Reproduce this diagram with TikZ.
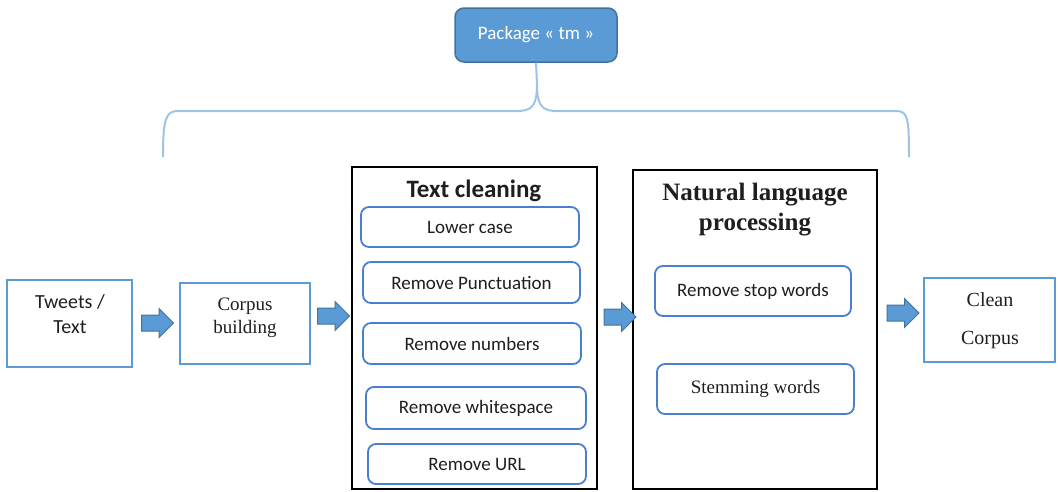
\documentclass[tikz,border=0pt]{standalone}
\usepackage{fontspec}
\setmainfont{Liberation Serif}
\newfontfamily\calib{Carlito}
\usetikzlibrary{shapes.arrows}
\definecolor{sqblue}{HTML}{5B9BD5}
\definecolor{rblue}{HTML}{4A7FD0}
\definecolor{pkgfill}{HTML}{5B9BD5}
\definecolor{pkgdraw}{HTML}{41719C}
\definecolor{bracecol}{HTML}{9DC3E6}
\definecolor{txt}{HTML}{1E1E1E}
\tikzset{
  sqbox/.style={draw=sqblue, line width=2pt, fill=white, inner sep=0pt},
  rbox/.style={draw=rblue, line width=1.8pt, rounded corners=8pt, fill=white, text=txt,
     font=\calib\fontsize{19}{23}\selectfont, inner sep=0pt},
  panel/.style={draw=black, line width=2.2pt, inner sep=0pt},
  barrow/.style={single arrow, draw=pkgdraw, fill=pkgfill, line width=1pt,
     minimum height=32pt, inner xsep=0pt, inner ysep=7.5pt, single arrow head extend=6.5pt,
     single arrow tip angle=90},
  lab/.style={anchor=base, text=txt, inner sep=0pt},
  sanslab/.style={lab, font=\calib\fontsize{20}{24}\selectfont},
  seriflab/.style={lab, font=\fontsize{20}{24}\selectfont},
  brace/.style={draw=bracecol, line width=2pt}
}
\begin{document}
\begin{tikzpicture}[x=1pt,y=-1pt]
\useasboundingbox (0,0) rectangle (1058,491);
% package box
\node[draw=pkgdraw, fill=pkgfill, line width=1.5pt, rounded corners=9pt, minimum width=162pt,
      minimum height=54pt, text=white, font=\calib\fontsize{19}{23}\selectfont, inner sep=0pt]
      (pkg) at (536,35) {Package « tm »};
% brace
\coordinate (split) at (537,84);
\coordinate (lend) at (163,157);
\coordinate (rend) at (909,157);
\draw[brace] (pkg.south) -- (split) .. controls (537,104) and (533,110) .. (520,111) -- (178,111)
   .. controls (166,111) and (163,118) .. (lend);
\draw[brace] (split) .. controls (537,104) and (541,110) .. (554,111) -- (896,111)
   .. controls (908,111) and (909,118) .. (rend);
% outer boxes
\node[sqbox, minimum width=125pt, minimum height=87pt] (tweets) at (69.5,323.5) {};
\node[sanslab] (tw1) at (70,308) {Tweets /};
\node[sanslab] (tw2) at (70,333) {Text};
\node[sqbox, minimum width=130pt, minimum height=81pt] (corpus) at (245,323.5) {};
\node[seriflab, font=\fontsize{19}{23}\selectfont] (cb1) at (245,310) {Corpus};
\node[seriflab, font=\fontsize{19}{23}\selectfont] (cb2) at (245,333) {building};
\node[sqbox, minimum width=131pt, minimum height=84pt] (clean) at (989.5,320) {};
\node[seriflab] (cc1) at (990,306) {Clean};
\node[seriflab] (cc2) at (990,344) {Corpus};
% panels
\node[panel, minimum width=245pt, minimum height=322pt] (tc) at (474.5,328) {};
\node[lab, font=\calib\bfseries\fontsize{25}{29}\selectfont] (tct) at (474,197) {Text cleaning};
\node[panel, minimum width=244pt, minimum height=319pt] (nlp) at (755,329.5) {};
\node[lab, font=\bfseries\fontsize{25}{29}\selectfont] (nlpt1) at (755,200) {Natural language};
\node[lab, font=\bfseries\fontsize{25}{29}\selectfont] (nlpt2) at (755,230) {processing};
% inner boxes
\node[rbox, minimum width=218pt, minimum height=40pt] (lc) at (470,227) {Lower case};
\node[rbox, minimum width=217pt, minimum height=41pt] (rp) at (471.5,282.5) {Remove Punctuation};
\node[rbox, minimum width=218pt, minimum height=41pt] (rn) at (472,343.5) {Remove numbers};
\node[rbox, minimum width=220pt, minimum height=42pt] (rw) at (476,408) {Remove whitespace};
\node[rbox, minimum width=218pt, minimum height=40pt] (ru) at (477,464) {Remove URL};
\node[rbox, minimum width=196pt, minimum height=50pt] (rs) at (753,291) {Remove stop words};
\node[rbox, minimum width=197pt, minimum height=50pt, font=\fontsize{19}{23}\selectfont] (sw) at (755.5,389) {Stemming words};
% block arrows
\node[barrow] (a1) at (153.5,323) {};
\node[barrow] (a2) at (329.5,316) {};
\node[barrow] (a3) at (616,317) {};
\node[barrow] (a4) at (899,313) {};
\end{tikzpicture}
\end{document}
